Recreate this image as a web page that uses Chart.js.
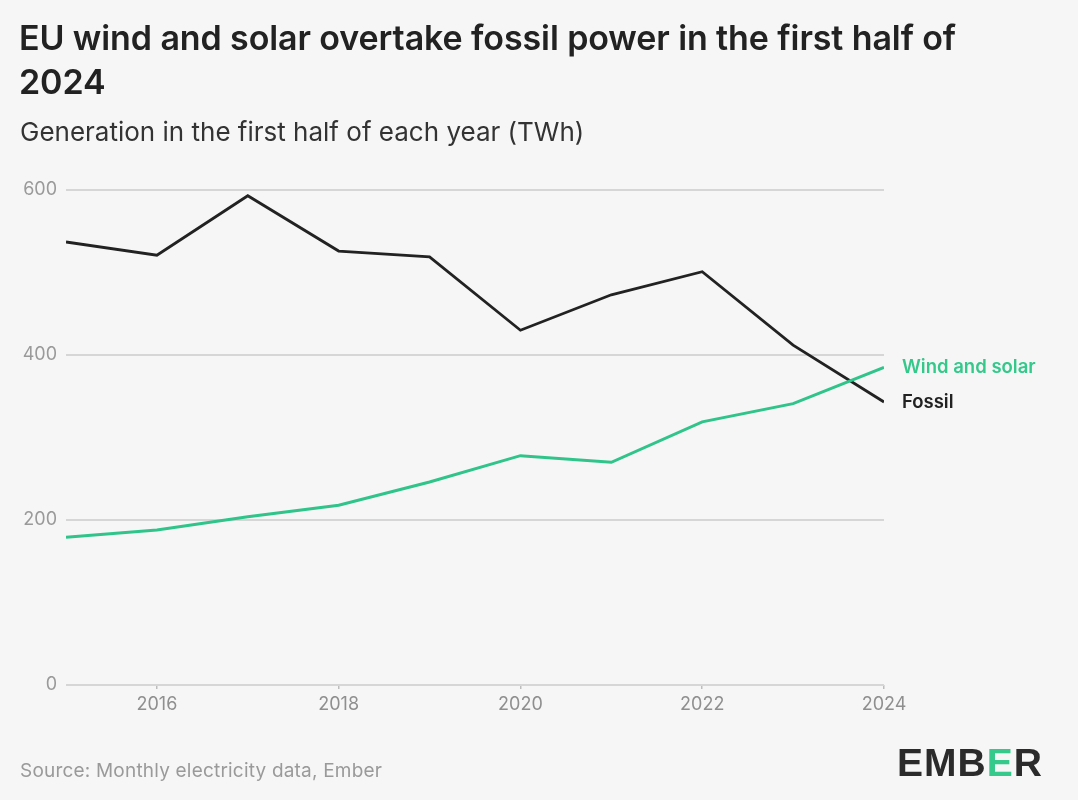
<!DOCTYPE html>
<html>
<head>
<meta charset="utf-8">
<script src="https://cdn.jsdelivr.net/npm/chart.js@4.4.1/dist/chart.umd.min.js"></script>
<style>
  html, body { margin: 0; padding: 0; background: #f6f6f6; }
  body { width: 1078px; height: 800px; position: relative; overflow: hidden; font-family: Inter, "Noto Sans", sans-serif; }
  #title { position: absolute; left: 19px; top: 16px; font-size: 34px; font-weight: 600; color: #222; line-height: 44px; letter-spacing: -0.1px; width: 1055px; white-space: nowrap; }
  #subtitle { position: absolute; left: 20px; top: 116px; font-size: 26px; color: #333; letter-spacing: 0px; }
  #source { position: absolute; left: 20px; top: 759px; font-size: 19px; color: #9a9a9a; letter-spacing: 0.2px; }
  #logo { position: absolute; left: 897px; top: 741px; font-size: 39px; font-weight: 800; color: #2b2b2b; letter-spacing: 1px; font-family: "Liberation Sans", Arial, sans-serif; }
  #logo span { color: #35c98c; }
  #wrap { position: absolute; left: 0; top: 0; width: 1078px; height: 800px; }
</style>
</head>
<body>
<div id="wrap"><canvas id="c" width="1078" height="800"></canvas></div>
<div id="title">EU wind and solar overtake fossil power in the first half of<br>2024</div>
<div id="subtitle">Generation in the first half of each year (TWh)</div>
<div id="source">Source: Monthly electricity data, Ember</div>
<div id="logo">EMB<span>E</span>R</div>
<script>
const years = [2015, 2016, 2017, 2018, 2019, 2020, 2021, 2022, 2023, 2024];
const fossil = [537, 521, 593, 526, 519, 430, 473, 501, 412, 343];
const windSolar = [179, 188, 204, 218, 246, 278, 270, 319, 341, 385];
const xTicks = [2016, 2018, 2020, 2022, 2024];
const yTicks = [0, 200, 400, 600];
const seriesNames = ['Wind and solar', 'Fossil'];
const seriesColors = ['#2fc48a', '#222222'];

const endLabels = {
  id: 'endLabels',
  afterDatasetsDraw(chart) {
    const ctx = chart.ctx;
    ctx.save();
    ctx.font = '600 18.5px Inter, "Noto Sans", sans-serif';
    ctx.textBaseline = 'middle';
    ctx.textAlign = 'left';
    chart.data.datasets.forEach((ds, i) => {
      const meta = chart.getDatasetMeta(i);
      const pt = meta.data[meta.data.length - 1];
      ctx.fillStyle = ds.labelColor;
      ctx.fillText(ds.label, pt.x + 18, pt.y);
    });
    ctx.restore();
  }
};

new Chart(document.getElementById('c'), {
  type: 'line',
  data: {
    datasets: [
      { label: seriesNames[0], labelColor: '#34c88b', data: years.map((y, i) => ({ x: y, y: windSolar[i] })), borderColor: seriesColors[0], borderWidth: 3, pointRadius: 0, tension: 0 },
      { label: seriesNames[1], labelColor: '#222', data: years.map((y, i) => ({ x: y, y: fossil[i] })), borderColor: seriesColors[1], borderWidth: 2.8, pointRadius: 0, tension: 0 }
    ]
  },
  options: {
    responsive: false,
    animation: false,
    events: [],
    layout: { padding: { top: 190, right: 194, left: 0, bottom: 0 } },
    plugins: { legend: { display: false }, tooltip: { enabled: false } },
    scales: {
      x: {
        type: 'linear',
        min: 2015, max: 2024,
        afterBuildTicks: s => { s.ticks = xTicks.map(v => ({ value: v })); },
        afterFit: s => { s.height = 115; },
        grid: { drawOnChartArea: false, drawTicks: true, tickLength: 4, color: '#bdbdbd', lineWidth: 1.5 },
        border: { display: false },
        ticks: { color: '#8f8f8f', font: { size: 18, family: 'Inter, "Noto Sans", sans-serif' }, padding: 5, maxRotation: 0, callback: v => String(v) }
      },
      y: {
        min: 0, max: 600,
        afterBuildTicks: s => { s.ticks = yTicks.map(v => ({ value: v })); },
        afterFit: s => { s.width = 66; },
        grid: { color: '#d6d6d6', lineWidth: 2, drawTicks: false },
        border: { display: false },
        ticks: { color: '#9a9a9a', font: { size: 18, family: 'Inter, "Noto Sans", sans-serif' }, padding: 9 }
      }
    }
  },
  plugins: [endLabels]
});
</script>
</body>
</html>
